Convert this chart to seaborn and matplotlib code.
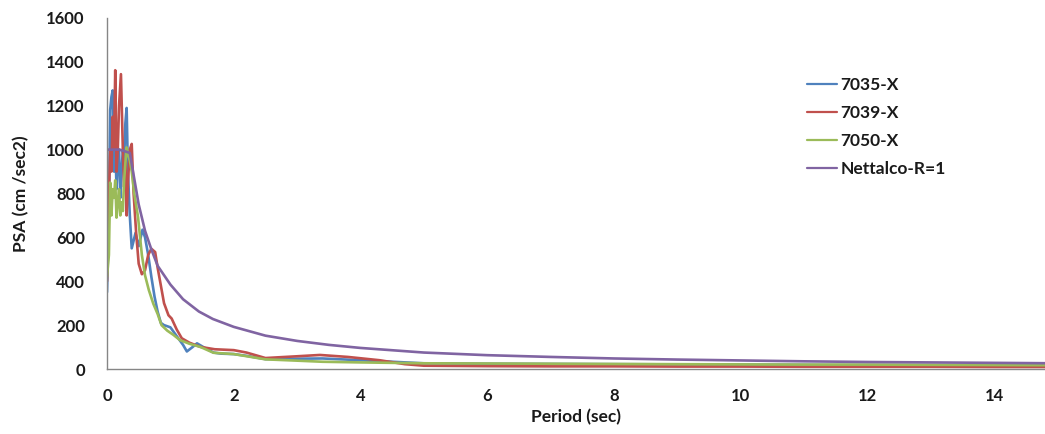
import pandas as pd
import seaborn as sns
import matplotlib.pyplot as plt

# 7035-X record spectrum
t_7035 = [0, 0.03, 0.05, 0.07, 0.09, 0.11, 0.13, 0.15, 0.17, 0.19, 0.21, 0.23, 0.25, 0.27,
          0.29, 0.31, 0.33, 0.36, 0.39, 0.45, 0.5, 0.56, 0.6, 0.65, 0.7, 0.75, 0.8, 0.85,
          0.9, 0.95, 1.0, 1.1, 1.2, 1.26, 1.35, 1.42, 1.55, 1.68, 1.8, 2.0, 2.2, 2.5, 3.0,
          3.4, 4.0, 4.5, 5.0, 6, 7, 8, 9, 10, 11, 12, 13, 14, 15]
psa_7035 = [350, 700, 1180, 1240, 1270, 900, 1050, 820, 960, 1000, 780, 900, 1000, 950,
            1120, 1190, 900, 700, 550, 620, 560, 635, 600, 520, 420, 330, 260, 210,
            200, 195, 190, 150, 110, 80, 100, 117, 95, 75, 70, 68, 60, 45, 47,
            48, 40, 33, 26, 24, 23, 22, 21, 20, 19, 18, 17, 16, 15]

# 7039-X record spectrum
t_7039 = [0, 0.03, 0.05, 0.07, 0.09, 0.11, 0.13, 0.15, 0.17, 0.19, 0.22, 0.25, 0.27, 0.29,
          0.31, 0.33, 0.36, 0.39, 0.42, 0.46, 0.5, 0.55, 0.6, 0.65, 0.7, 0.76, 0.8, 0.85,
          0.9, 0.97, 1.02, 1.1, 1.18, 1.3, 1.47, 1.7, 2.0, 2.2, 2.5, 3.0, 3.36, 3.8, 4.3,
          4.7, 5.0, 6, 7, 8, 9, 10, 11, 12, 13, 14, 15]
psa_7039 = [400, 800, 1000, 900, 1150, 1000, 1362, 900, 1000, 1200, 1344, 1000, 830, 950,
            700, 850, 1000, 1026, 800, 620, 480, 432, 450, 520, 548, 533, 460, 380,
            300, 245, 230, 180, 140, 120, 101, 90, 86, 75, 50, 58, 64, 55, 40,
            22, 15, 13, 12, 12, 11, 11, 10, 10, 10, 9, 9]

# 7050-X record spectrum
t_7050 = [0, 0.03, 0.05, 0.07, 0.09, 0.11, 0.13, 0.15, 0.17, 0.19, 0.21, 0.23, 0.25, 0.27,
          0.29, 0.31, 0.33, 0.36, 0.39, 0.43, 0.49, 0.55, 0.6, 0.66, 0.73, 0.8, 0.86, 0.95,
          1.05, 1.15, 1.3, 1.47, 1.68, 2.0, 2.5, 3.0, 3.4, 4, 5, 6, 7, 8, 9, 10, 11, 12,
          13, 14, 15]
psa_7050 = [420, 520, 850, 700, 820, 780, 860, 690, 760, 820, 700, 760, 720, 860,
            940, 1010, 980, 950, 900, 800, 692, 520, 427, 360, 298, 250, 200, 175,
            155, 132, 115, 101, 74, 68, 44, 38, 33, 30, 26, 25, 24, 23, 22, 21, 20, 20,
            19, 18, 17]

# design spectrum
t_design = [0, 0.2, 0.36, 0.5, 0.6, 0.7, 0.8, 1.0, 1.2, 1.45, 1.67, 2.0, 2.5, 3.0, 3.5,
            4.0, 5.0, 6, 7, 8, 9, 10, 11, 12, 13, 14, 15]
psa_design = [1000, 1000, 985, 750, 630, 545, 470, 385, 318, 262, 228, 192, 152, 128, 110,
              96, 75, 63, 55, 48, 43, 39, 35, 32, 30, 28, 26]

labels = ["7035-X", "7039-X", "7050-X", "Nettalco-R=1"]
colors = ["#4F81BD", "#C0504D", "#9BBB59", "#8064A2"]


def main():
    frames = []
    for name, t, p in zip(labels, [t_7035, t_7039, t_7050, t_design],
                          [psa_7035, psa_7039, psa_7050, psa_design]):
        frames.append(pd.DataFrame({"Period": t, "PSA": p, "Serie": name}))
    df = pd.concat(frames, ignore_index=True)

    sns.set_style("white")
    plt.rcParams['font.family'] = ['Lato', 'DejaVu Sans']
    plt.rcParams['font.weight'] = 'bold'

    fig = plt.figure(figsize=(10.45, 4.34), dpi=100)
    ax = fig.add_axes([107 / 1045, 65 / 434, 938 / 1045, 351 / 434])

    sns.lineplot(data=df, x="Period", y="PSA", hue="Serie", hue_order=labels,
                 palette=colors, estimator=None, linewidth=1.9, ax=ax)

    ax.set_xlim(0, 14.8)
    ax.set_ylim(0, 1600)
    ax.set_xticks(range(0, 15, 2))
    ax.set_yticks(range(0, 1601, 200))
    for side in ["top", "right"]:
        ax.spines[side].set_visible(False)
    for side in ["left", "bottom"]:
        ax.spines[side].set_color("#868686")
        ax.spines[side].set_linewidth(1)
    ax.tick_params(axis="both", direction="out", length=4, width=1, color="#868686",
                   labelsize=12, labelcolor="#1a1a1a")
    ax.tick_params(axis="y", pad=12)
    ax.tick_params(axis="x", pad=10)

    ax.set_xlabel("Period (sec)", fontsize=12.5, fontweight="bold", color="#1a1a1a", labelpad=3)
    ax.set_ylabel("PSA (cm /sec2)", fontsize=12.5, fontweight="bold", color="#1a1a1a", labelpad=12)

    leg = ax.legend(loc="upper left", bbox_to_anchor=(0.746, 0.832), frameon=False,
                    fontsize=12.5, borderpad=0, borderaxespad=0, handlelength=1.75,
                    handletextpad=0.2, labelspacing=0.7)
    for line in leg.get_lines():
        line.set_linewidth(1.6)
    for txt in leg.get_texts():
        txt.set_color("#1a1a1a")
        txt.set_fontweight("bold")

    fig.savefig("out.png", dpi=100)


if __name__ == "__main__":
    main()
